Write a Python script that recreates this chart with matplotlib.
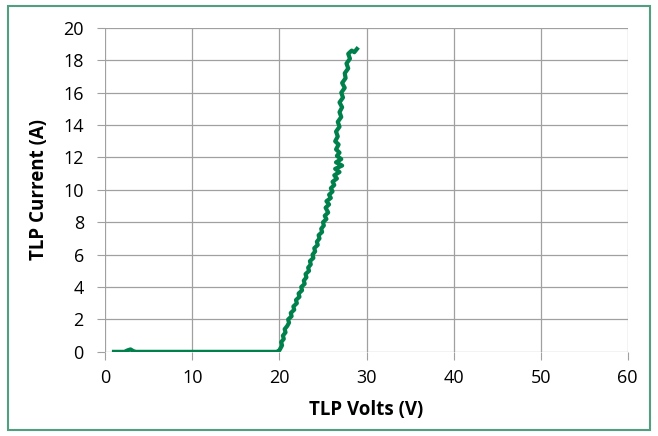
import matplotlib.pyplot as plt
from matplotlib.patches import Rectangle

# TLP sweep (volts, amps)
volts = [1.0, 1.6, 2.2, 2.6, 2.9, 3.2, 3.5, 5.0, 8.0, 12.0, 16.0, 19.0, 19.7,
         20.0, 20.3, 20.2, 20.5, 20.4, 20.7, 20.6, 20.9, 21.1, 21.0, 21.4, 21.3,
         21.7, 21.6, 22.0, 21.9, 22.3, 22.2, 22.6, 22.5, 22.9, 22.8, 23.1, 23.0,
         23.4, 23.3, 23.6, 23.5, 23.9, 23.8, 24.1, 24.0, 24.4, 24.3, 24.6, 24.5,
         24.9, 24.8, 25.1, 25.0, 25.4, 25.2, 25.6, 25.3, 25.7, 25.4, 25.9, 25.7,
         26.1, 25.9, 26.3, 26.1, 26.6, 26.3, 26.9, 26.4, 27.2, 26.5, 27.1, 26.6,
         26.9, 26.5, 26.8, 26.4, 26.7, 26.5, 26.9, 26.7, 27.1, 26.9, 27.2, 26.9,
         27.3, 27.1, 27.5, 27.2, 27.6, 27.5, 27.9, 27.7, 28.1, 27.9, 28.3, 28.6,
         28.9]
amps = [0.0, 0.0, 0.0, 0.1, 0.15, 0.05, 0.0, 0.0, 0.0, 0.0, 0.0, 0.0, 0.0,
        0.1, 0.4, 0.6, 0.8, 1.0, 1.2, 1.4, 1.6, 1.8, 2.0, 2.2, 2.4,
        2.6, 2.8, 3.0, 3.2, 3.4, 3.6, 3.8, 4.0, 4.2, 4.4, 4.6, 4.8,
        5.0, 5.2, 5.4, 5.6, 5.8, 6.0, 6.2, 6.4, 6.6, 6.8, 7.0, 7.2,
        7.4, 7.6, 7.8, 8.0, 8.2, 8.4, 8.6, 8.9, 9.1, 9.3, 9.5, 9.7,
        9.9, 10.1, 10.3, 10.5, 10.7, 10.9, 11.1, 11.3, 11.5, 11.7, 11.9, 12.1,
        12.3, 12.5, 12.8, 13.0, 13.3, 13.6, 13.9, 14.2, 14.5, 14.8, 15.1, 15.4,
        15.7, 16.0, 16.3, 16.6, 16.9, 17.2, 17.5, 17.8, 18.1, 18.4, 18.6, 18.5,
        18.7]

x_ticks = [0, 10, 20, 30, 40, 50, 60]
y_ticks = [0, 2, 4, 6, 8, 10, 12, 14, 16, 18, 20]

plt.rcParams['font.family'] = ['Open Sans', 'DejaVu Sans']

fig = plt.figure(figsize=(6.58, 4.36), dpi=100)
ax = fig.add_axes([0.16, 0.193, 0.794, 0.743])

ax.plot(volts, amps, color='#00814c', linewidth=3.0, solid_joinstyle='round')

ax.set_xlim(0, 60)
ax.set_ylim(0, 20)
ax.set_xticks(x_ticks)
ax.set_yticks(y_ticks)
ax.grid(True, color='#a0a0a0', linewidth=0.9)
ax.set_axisbelow(True)
for s in ax.spines.values():
    s.set_visible(False)
ax.tick_params(axis='both', length=5.5, color='#a0a0a0', labelsize=13)
ax.tick_params(axis='x', pad=7)
ax.tick_params(axis='y', pad=10)

ax.set_xlabel('TLP Volts (V)', fontsize=13.5, fontweight='bold', labelpad=9)
ax.set_ylabel('TLP Current (A)', fontsize=13.5, fontweight='bold', labelpad=10)

# outer chart border
fig.patches.append(Rectangle((8 / 658, 6 / 436), 642 / 658, 424 / 436,
                             transform=fig.transFigure, fill=False,
                             edgecolor='#4f9f80', linewidth=1.5))

fig.savefig('out.png', dpi=100)
